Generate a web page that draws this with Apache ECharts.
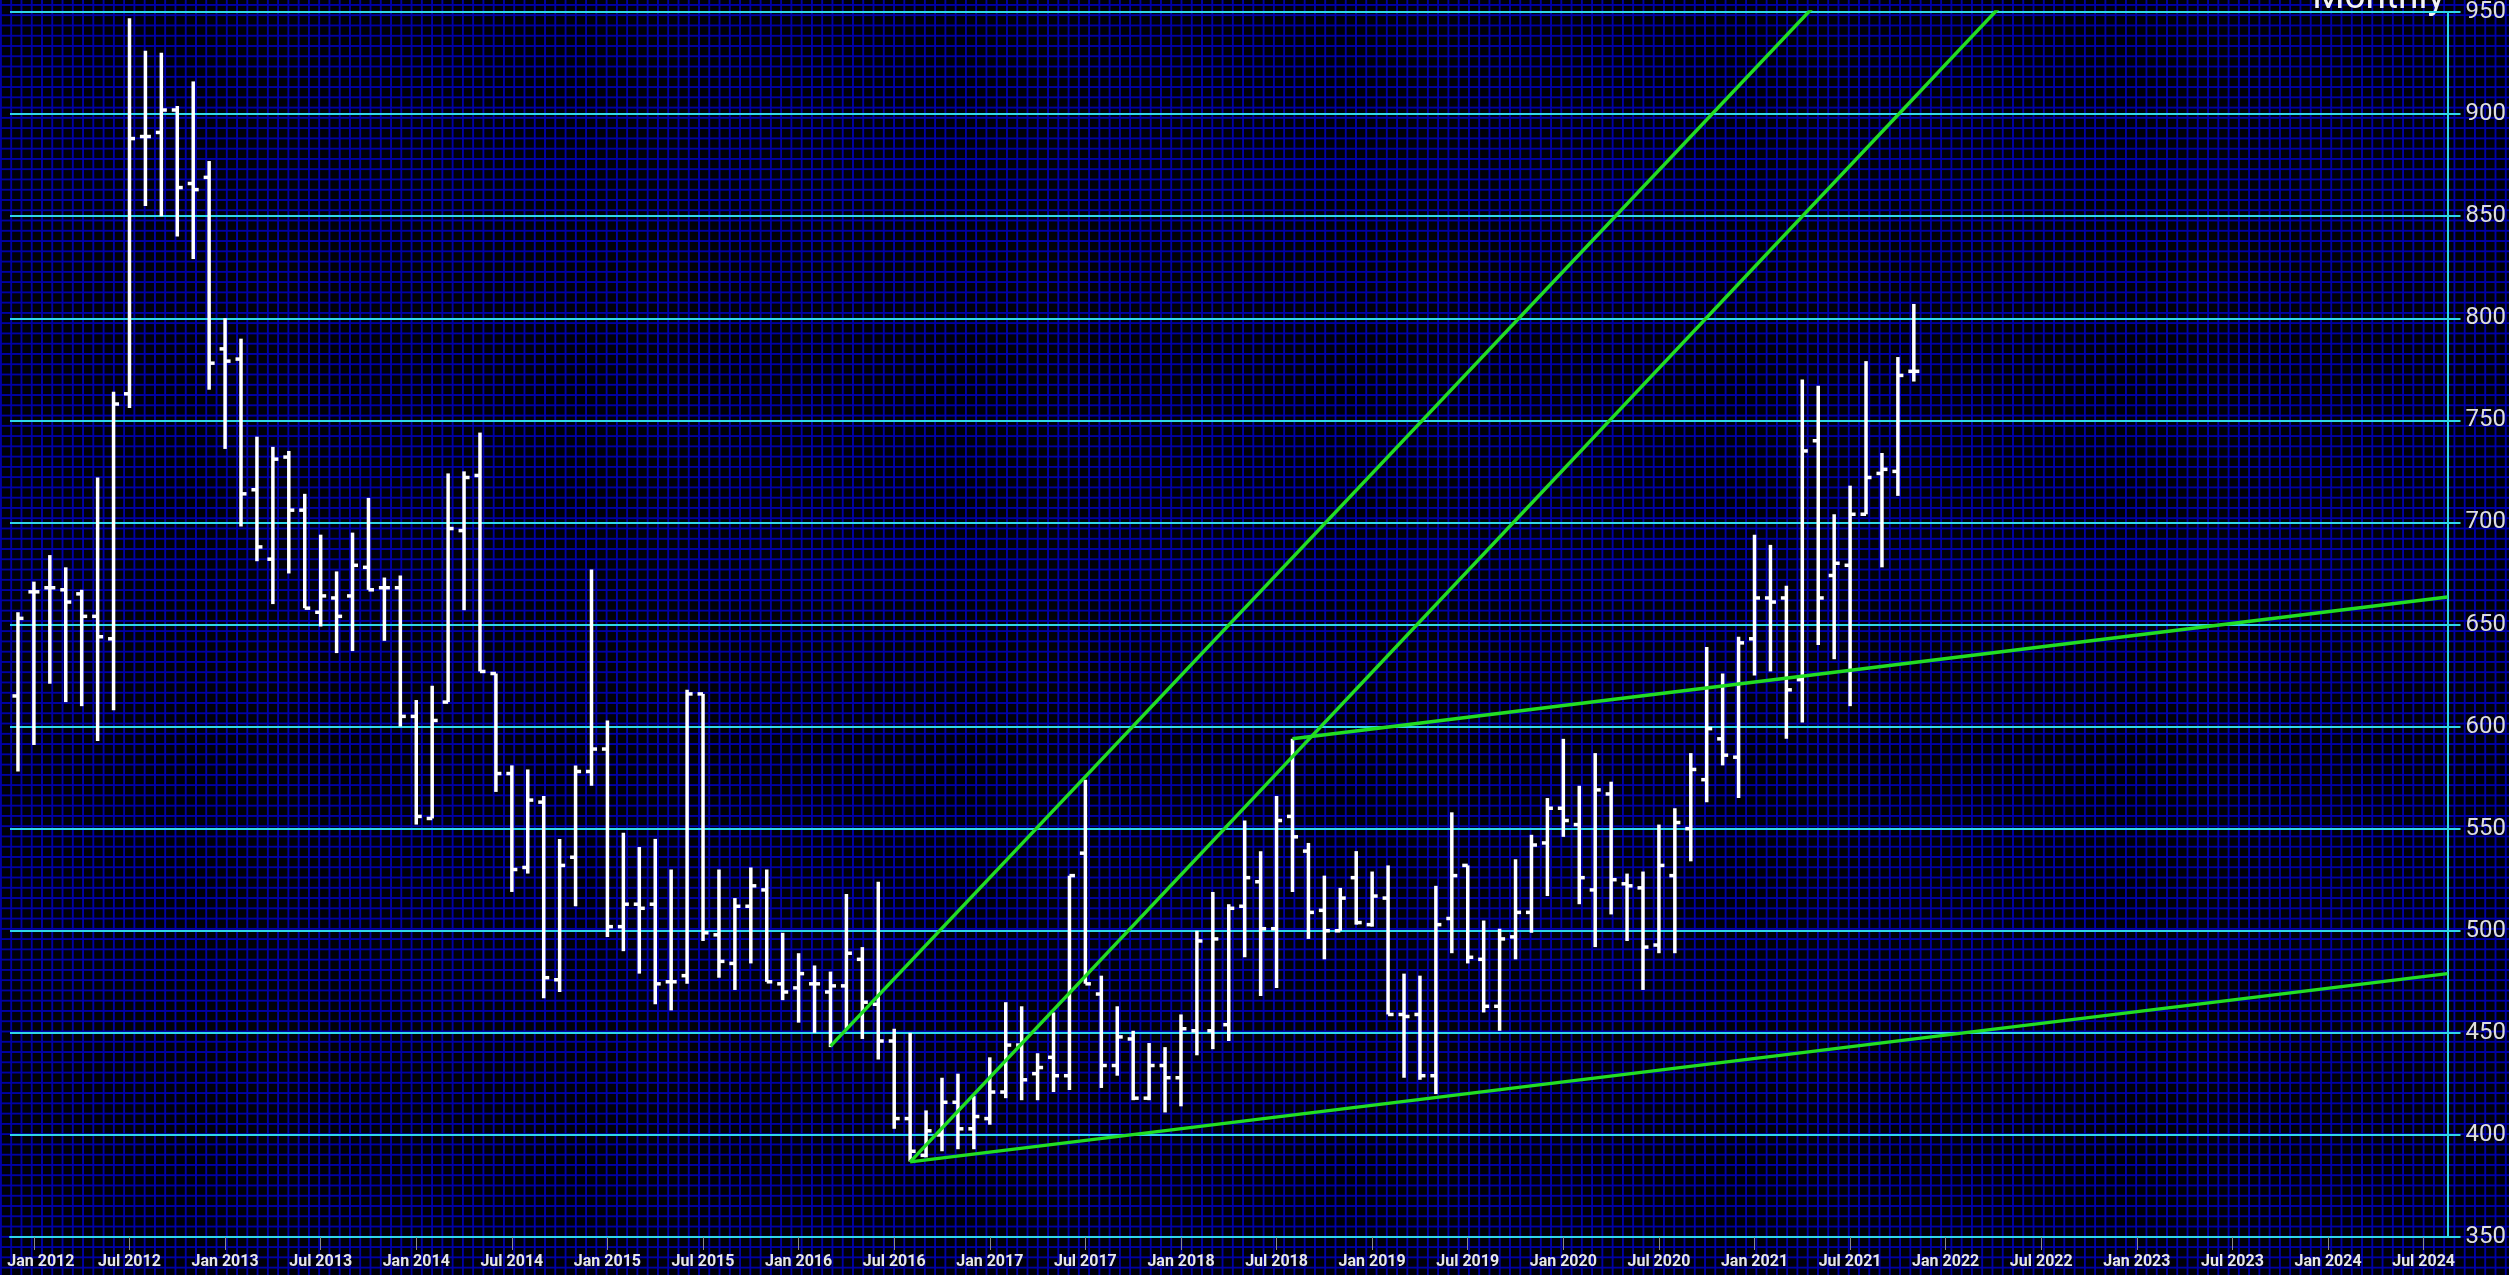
<!DOCTYPE html>
<html>
<head>
<meta charset="utf-8">
<title>Monthly</title>
<script src="https://cdn.jsdelivr.net/npm/echarts@6/dist/echarts.min.js"></script>
<style>
  html, body { margin: 0; padding: 0; background: #000; }
  #main {
    width: 2509px;
    height: 1275px;
    background-color: #000008;
    background-image:
      linear-gradient(90deg, #0000a4 2px, transparent 2px),
      linear-gradient(180deg, #0000a4 2px, transparent 2px);
    background-size: 10.267px 10.267px;
    background-position: 0 4px;
  }
</style>
</head>
<body>
<div id="main"></div>
<script>
// month index: 0 = Jan 2012, first bar is Dec 2011 (-1)
var firstMonth = -1;

var opens = [615,
  666,668,667,665,654,643,763,889,891,902,866,869,
  785,780,716,682,732,706,656,663,664,678,668,668,
  605,555,612,696,723,626,577,531,563,476,536,578,
  589,502,513,513,475,478,616,498,484,512,520,474,
  472,474,470,473,486,464,446,408,390,400,416,403,
  408,421,444,430,438,429,538,469,434,447,418,434,
  428,451,451,454,512,524,501,556,539,510,500,526,
  503,516,459,459,429,506,532,486,463,497,509,543,
  560,552,520,567,523,521,493,527,550,574,594,585,
  643,663,663,623,740,674,679,704,724,725,774];

var highs = [656,
  671,684,678,667,722,764,947,931,930,904,916,877,
  800,790,742,737,735,714,694,676,695,712,673,674,
  613,620,724,725,744,626,581,579,566,545,581,677,
  603,548,541,545,530,618,616,530,516,531,530,499,
  489,483,480,518,492,524,452,450,412,428,430,419,
  438,465,463,440,460,527,574,478,463,451,445,443,
  459,500,519,513,554,539,566,594,543,527,521,539,
  529,532,479,478,522,558,532,505,501,535,547,565,
  594,571,587,573,528,529,552,560,587,639,626,644,
  694,689,669,770,767,704,718,779,734,781,807];

var lows = [578,
  591,621,612,610,593,608,756,855,850,840,829,765,
  736,698,681,660,675,658,649,636,637,667,642,600,
  552,555,612,657,627,568,519,528,467,470,512,571,
  497,490,479,464,461,474,495,477,471,484,475,466,
  455,450,443,452,447,437,403,387,389,392,393,393,
  405,418,417,417,421,422,474,423,429,417,417,411,
  414,439,442,446,487,468,472,519,496,486,500,503,
  502,459,428,427,420,489,484,460,451,486,499,517,
  546,513,492,508,495,471,489,489,534,563,581,565,
  625,627,594,602,640,633,610,704,678,713,769];

var closes = [653,
  666,668,661,654,644,758,888,889,902,864,863,778,
  779,714,688,731,706,658,664,654,679,667,668,605,
  556,603,697,722,627,577,530,564,477,532,578,589,
  502,513,511,474,475,616,499,485,512,522,475,470,
  479,474,473,489,465,446,408,392,402,416,403,409,
  421,444,427,433,429,527,474,434,448,418,434,428,
  452,495,496,511,526,501,554,546,509,500,516,504,
  517,459,458,429,503,527,487,463,496,509,542,560,
  554,526,569,525,522,492,532,553,579,599,586,641,
  663,661,618,735,663,680,704,722,726,772,774];

var tickLabels = ['Jan 2012','Jul 2012','Jan 2013','Jul 2013','Jan 2014','Jul 2014',
  'Jan 2015','Jul 2015','Jan 2016','Jul 2016','Jan 2017','Jul 2017','Jan 2018',
  'Jul 2018','Jan 2019','Jul 2019','Jan 2020','Jul 2020','Jan 2021','Jul 2021',
  'Jan 2022','Jul 2022','Jan 2023','Jul 2023','Jan 2024','Jul 2024'];

// trend lines [month index, price]
var upperChannel = [[50, 443.5], [116, 988]];
var lowerChannel = [[55, 386.8], [126, 974]];
var resistLine = [[79, 594], [151.5, 663.5]];
var supportLine = [[55, 386.8], [151.5, 479]];

var tickPos = [];
for (var i = 0; i < tickLabels.length; i++) tickPos.push(i * 6);

var bars = [];
for (var j = 0; j < opens.length; j++) {
  bars.push([firstMonth + j, opens[j], highs[j], lows[j], closes[j]]);
}

var labelFont = 'Roboto, "Liberation Sans", sans-serif';

function renderBar(params, api) {
  var x = api.value(0);
  var pO = api.coord([x, api.value(1)]);
  var pH = api.coord([x, api.value(2)]);
  var pL = api.coord([x, api.value(3)]);
  var pC = api.coord([x, api.value(4)]);
  var st = { fill: '#ffffff' };
  return {
    type: 'group',
    children: [
      { type: 'rect', shape: { x: pH[0] - 1.75, y: pH[1], width: 3.5, height: pL[1] - pH[1] }, style: st },
      { type: 'rect', shape: { x: pO[0] - 5.5, y: pO[1] - 1.75, width: 5.5, height: 3.5 }, style: st },
      { type: 'rect', shape: { x: pC[0], y: pC[1] - 1.75, width: 5.5, height: 3.5 }, style: st }
    ]
  };
}

function trend(data) {
  return {
    type: 'line',
    data: data,
    symbol: 'none',
    clip: true,
    z: 5,
    silent: true,
    lineStyle: { color: '#22dd22', width: 3.5 }
  };
}

var chart = echarts.init(document.getElementById('main'), null, { renderer: 'canvas' });

chart.setOption({
  backgroundColor: 'transparent',
  animation: false,
  grid: { left: 10, right: 60, top: 5, bottom: 38 },
  graphic: [{
    type: 'text',
    right: 64,
    top: -20,
    style: {
      text: 'Monthly',
      fill: '#f2f2f2',
      font: '37px ' + labelFont
    }
  }],
  xAxis: {
    type: 'value',
    min: -1.5,
    max: 151.5,
    axisLine: { show: true, onZero: false, lineStyle: { color: '#2fd6e8', width: 2 } },
    axisTick: { show: true, customValues: tickPos, length: 13, lineStyle: { color: '#8a8a8a', width: 1 } },
    axisLabel: {
      customValues: tickPos,
      margin: 17,
      color: '#e6e6e6',
      fontSize: 16,
      fontWeight: 'bold',
      fontFamily: labelFont,
      formatter: function (v) {
        var k = Math.round(v / 6);
        if (k === 0) return '{first|' + tickLabels[k] + '}';
        return tickLabels[k];
      },
      rich: { first: { padding: [0, 0, 0, 14], color: '#e6e6e6', fontSize: 16, fontWeight: 'bold', fontFamily: labelFont } }
    },
    splitLine: { show: false }
  },
  yAxis: {
    type: 'value',
    position: 'right',
    min: 350,
    max: 950,
    interval: 50,
    axisLine: { show: true, onZero: false, lineStyle: { color: '#2fd6e8', width: 2 } },
    axisTick: { show: true, length: 13, lineStyle: { color: '#2fd6e8', width: 2 } },
    axisLabel: { color: '#dedede', fontSize: 24, margin: 18, fontFamily: labelFont },
    splitLine: { show: true, lineStyle: { color: '#2fd6e8', width: 2 } }
  },
  series: [
    {
      type: 'custom',
      renderItem: renderBar,
      data: bars,
      encode: { x: 0, y: [1, 2, 3, 4] },
      z: 3
    },
    trend(upperChannel),
    trend(lowerChannel),
    trend(resistLine),
    trend(supportLine)
  ]
});
</script>
</body>
</html>
